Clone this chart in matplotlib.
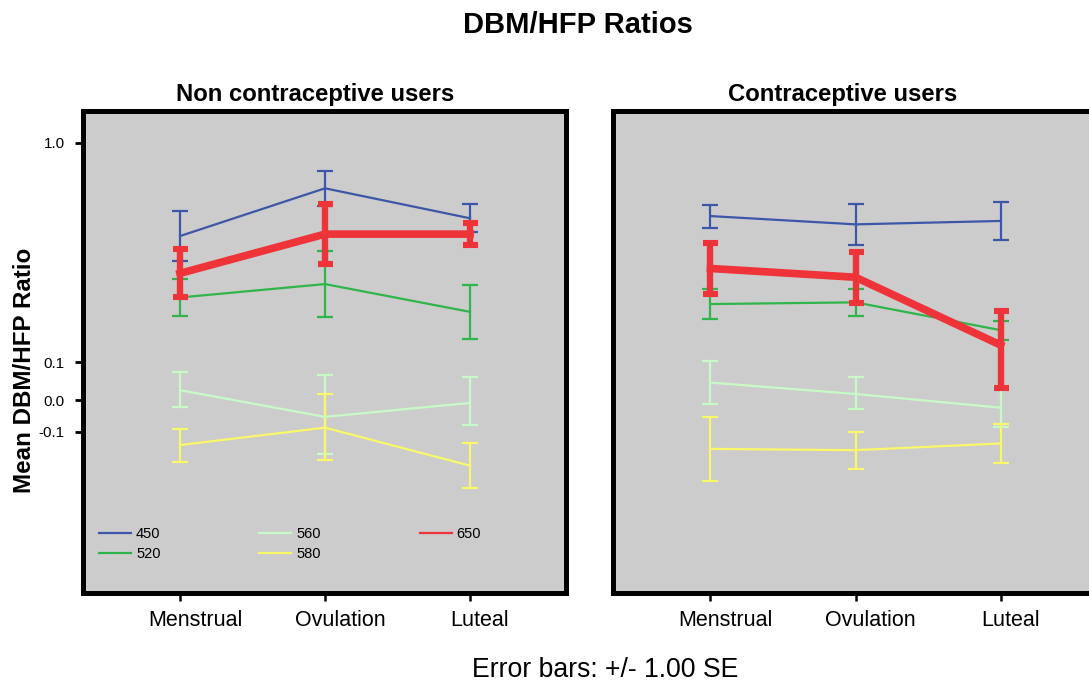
import numpy as np
import matplotlib
matplotlib.use('Agg')
import matplotlib.pyplot as plt
import matplotlib.transforms as mtransforms
from matplotlib.lines import Line2D

plt.rcParams['font.family'] = ['Liberation Sans', 'DejaVu Sans']

phases = ['Menstrual', 'Ovulation', 'Luteal']
wavelengths = ['450', '520', '560', '580', '650']
colors = ['#3d57a8', '#2fb54a', '#c8fac8', '#f8f86a', '#ee3339']

# mean ratio and standard error per wavelength, phase order as above
non_means = {
    '450': [0.617, 0.813, 0.690],
    '520': [0.365, 0.420, 0.306],
    '560': [0.026, -0.053, -0.009],
    '580': [-0.142, -0.087, -0.207],
    '650': [0.464, 0.625, 0.625],
}
non_se = {
    '450': [0.102, 0.073, 0.057],
    '520': [0.074, 0.135, 0.111],
    '560': [0.048, 0.118, 0.069],
    '580': [0.052, 0.103, 0.070],
    '650': [0.098, 0.123, 0.045],
}
user_means = {
    '450': [0.699, 0.665, 0.679],
    '520': [0.338, 0.345, 0.231],
    '560': [0.046, 0.016, -0.024],
    '580': [-0.154, -0.158, -0.137],
    '650': [0.484, 0.448, 0.170],
}
user_se = {
    '450': [0.047, 0.083, 0.078],
    '520': [0.063, 0.054, 0.039],
    '560': [0.060, 0.044, 0.060],
    '580': [0.100, 0.058, 0.061],
    '650': [0.104, 0.105, 0.138],
}

ytick_vals = [-0.1, 0.0, 0.1, 1.0]
ytick_labels = ['-0.1', '0.0', '0.1', '1.0']

# piecewise linear axis: uneven spacing between the labelled ticks
scale_vals = np.array([-10.0, -0.1, 0.0, 0.1, 1.0, 10.0])
scale_pos = np.array([-3570.0, -431.7, -400.0, -362.0, -142.7, 2050.6])


def fwd(v):
    return np.interp(v, scale_vals, scale_pos)


def inv(u):
    return np.interp(u, scale_pos, scale_vals)


W, H = 1089, 682
fig = plt.figure(figsize=(W / 100, H / 100), dpi=100)

ax_w = 483.3 / W
ax_b = 1 - 592.5 / H
ax_h = (592.5 - 110.8) / H
ax1 = fig.add_axes([82.7 / W, ax_b, ax_w, ax_h])
ax2 = fig.add_axes([613.2 / W, ax_b, ax_w, ax_h])

x = np.arange(len(phases))
# category labels sit a little to the right of their ticks
label_shift = [10.8, 10.8, 7.2]

for ax, means, ses in [(ax1, non_means, non_se), (ax2, user_means, user_se)]:
    ax.set_facecolor('#cccccc')
    ax.set_yscale('function', functions=(fwd, inv))
    for wl, c in zip(wavelengths, colors):
        if wl == '650':
            ax.errorbar(x, means[wl], yerr=ses[wl], color=c, lw=5.5,
                        elinewidth=4.6, capsize=5.4, capthick=4.4, zorder=5)
        else:
            ax.errorbar(x, means[wl], yerr=ses[wl], color=c, lw=1.6,
                        elinewidth=1.6, capsize=5.8, capthick=1.6, zorder=3)
    ax.set_xlim(-0.671, 2.662)
    ax.set_ylim(-0.607, 1.131)
    ax.set_xticks(x)
    ax.set_xticklabels(phases, fontsize=15.5)
    ax.tick_params(axis='x', direction='out', length=6, width=1.8, pad=6.5)
    for lab, dx in zip(ax.get_xticklabels(), label_shift):
        off = mtransforms.ScaledTranslation(dx / 72, 0, fig.dpi_scale_trans)
        lab.set_transform(lab.get_transform() + off)
    for s in ax.spines.values():
        s.set_linewidth(3.6)
        s.set_color('black')

ax1.set_yticks(ytick_vals)
ax1.set_yticklabels(ytick_labels, fontsize=11)
ax1.minorticks_off()
ax1.tick_params(axis='y', direction='out', length=6, width=2.0, pad=7)
ax2.set_yticks([])
ax2.minorticks_off()

handles = [Line2D([], [], color=c, lw=1.6) for c in colors]
ax1.legend(handles, wavelengths, ncol=3, frameon=False, fontsize=10.5,
           loc='upper left', bbox_to_anchor=(0.0338, 0.1354),
           borderpad=0, borderaxespad=0, handlelength=2.2,
           handletextpad=0.34, columnspacing=6.77, labelspacing=0.39)

fig.text(578 / W, 1 - 25 / H, 'DBM/HFP Ratios', fontsize=21,
         fontweight='bold', ha='center', va='center')
fig.text(315.5 / W, 1 - 94 / H, 'Non contraceptive users', fontsize=17.2,
         fontweight='bold', ha='center', va='center')
fig.text(842.5 / W, 1 - 94 / H, 'Contraceptive users', fontsize=17.2,
         fontweight='bold', ha='center', va='center')
fig.text(25 / W, 1 - 370 / H, 'Mean DBM/HFP Ratio', fontsize=17.4,
         fontweight='bold', rotation=90, ha='center', va='center')
fig.text(605 / W, 1 - 670 / H, 'Error bars: +/- 1.00 SE', fontsize=19.2,
         ha='center', va='center')

fig.savefig('out.png', dpi=100)
